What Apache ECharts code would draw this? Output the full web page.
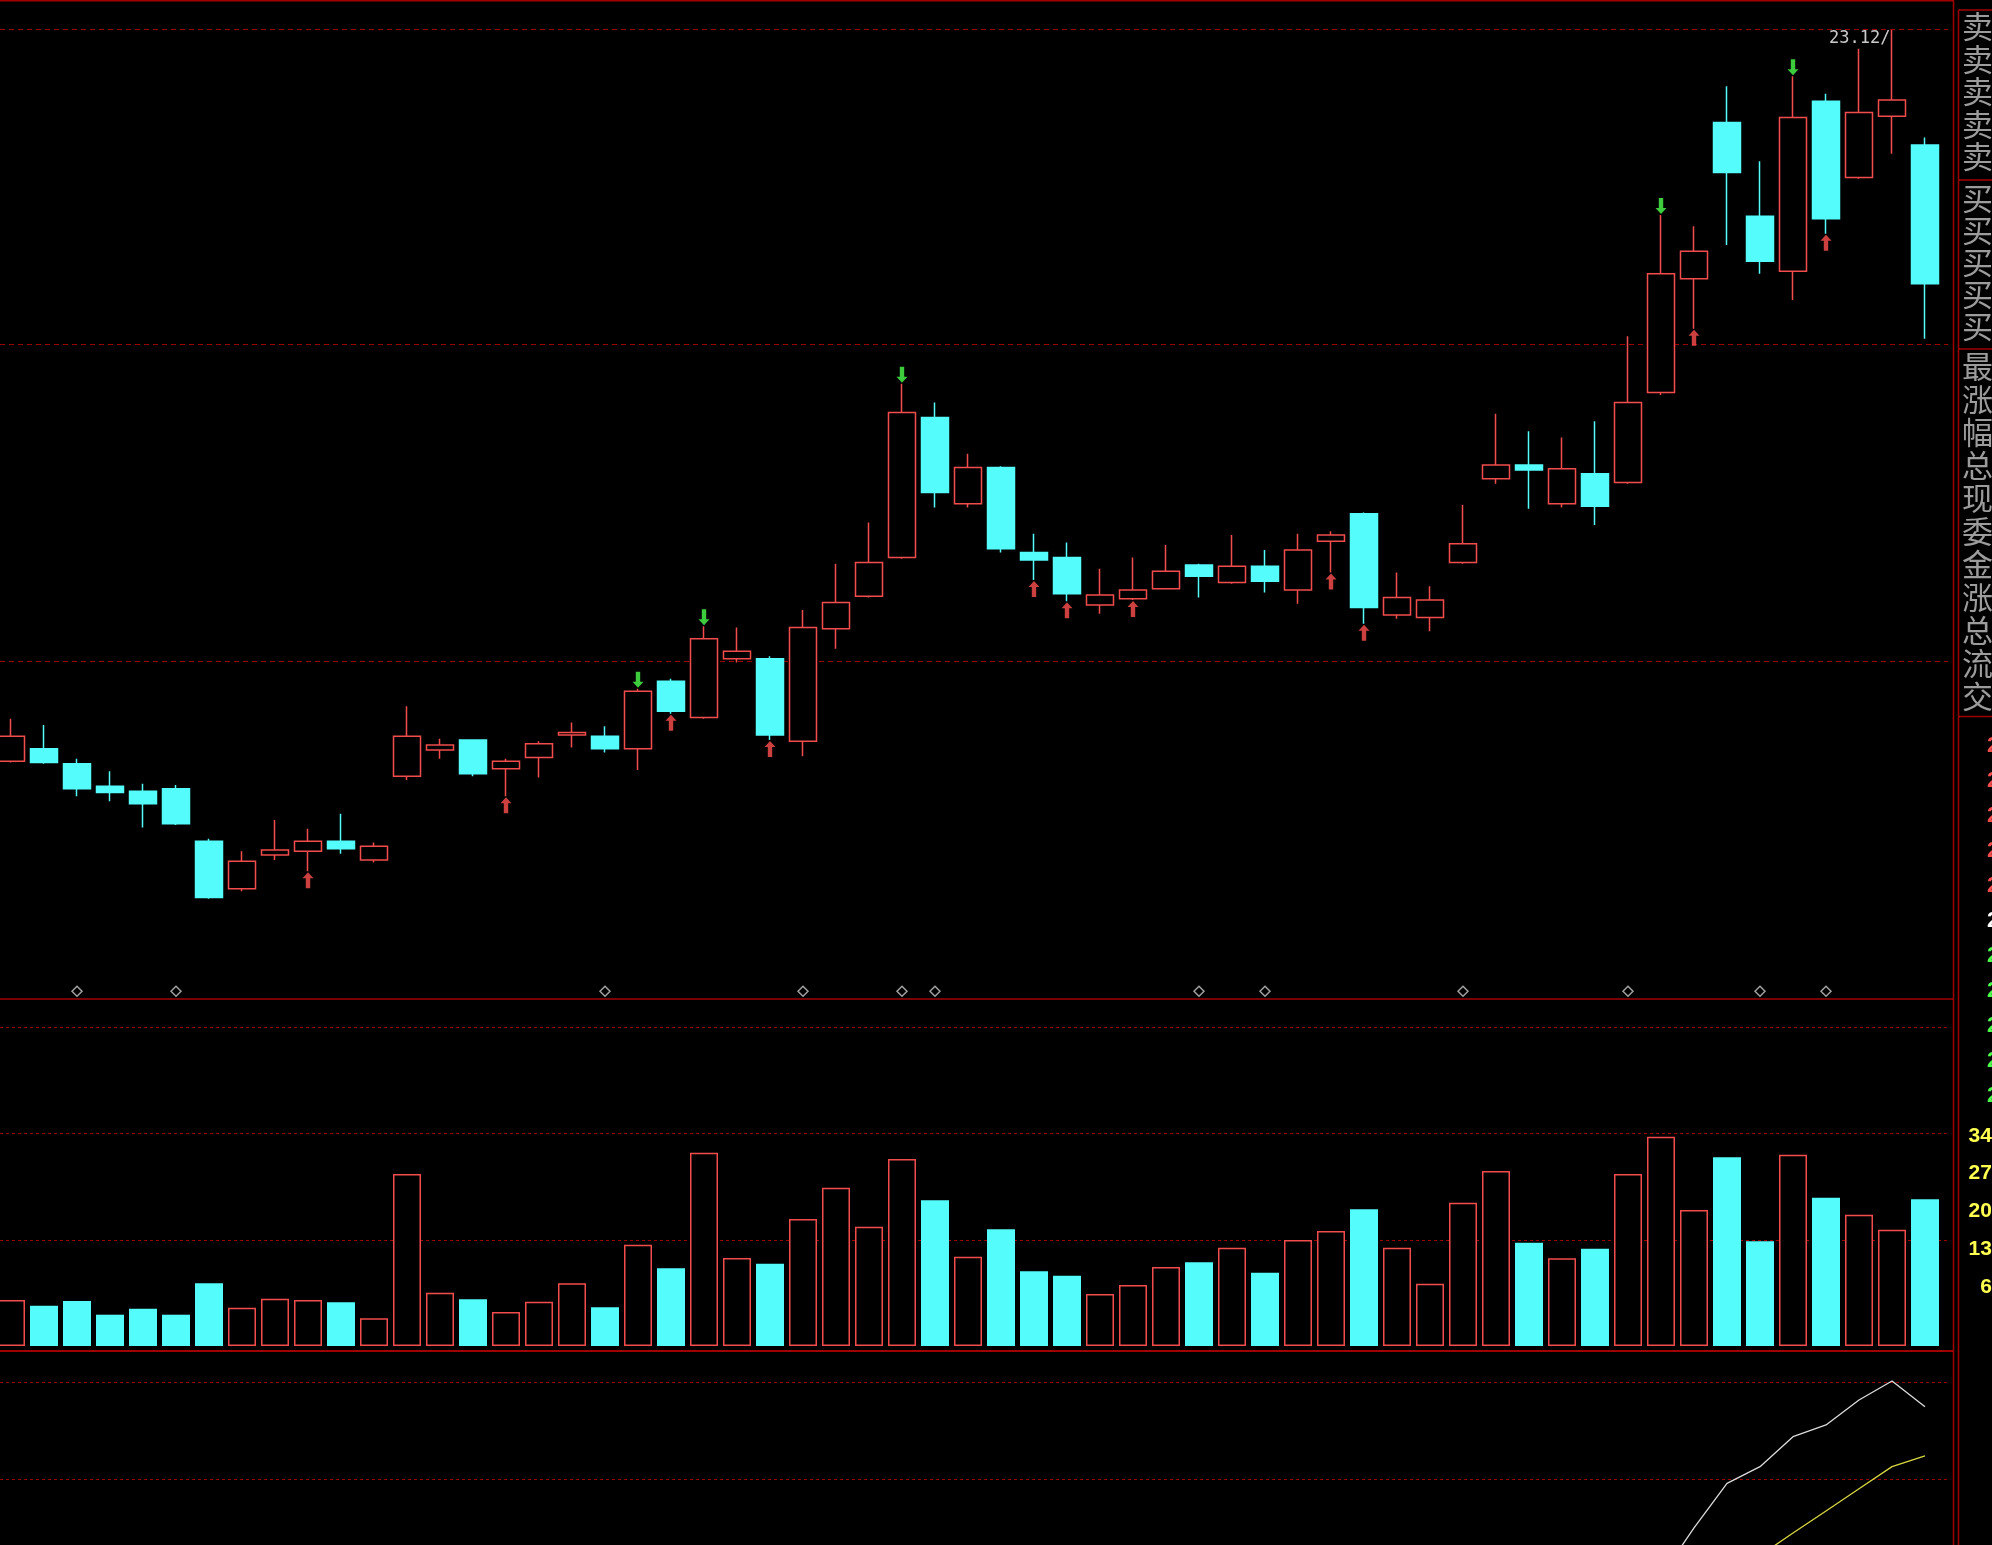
<!DOCTYPE html>
<html><head><meta charset="utf-8">
<script src="https://cdn.jsdelivr.net/npm/echarts@6/dist/echarts.min.js"></script>
<style>html,body{margin:0;padding:0;background:#000;overflow:hidden}#c{width:1992px;height:1545px}</style>
</head><body><div id="c"></div>
<script>
// ---------- data ----------
const categories = Array.from({length: 59}, (_, i) => 'D' + (i + 1));
const openP  = [17.27,17.37,17.25,17.07,17.03,17.05,16.63,16.25,16.52,16.55,
                16.63,16.48,17.15,17.36,17.44,17.21,17.30,17.48,17.47,17.37,
                17.91,17.62,18.09,18.09,17.43,18.33,18.59,18.90,20.02,19.33,
                19.62,18.94,18.90,18.52,18.57,18.65,18.84,18.70,18.83,18.64,
                19.03,19.25,18.44,18.42,18.86,19.53,19.64,19.33,19.57,19.50,
                20.22,21.13,22.38,21.63,21.19,22.55,21.94,22.43,22.20];
const closeP = [17.47,17.26,17.05,17.02,16.93,16.77,16.18,16.47,16.56,16.63,
                16.57,16.59,17.47,17.40,17.17,17.27,17.41,17.50,17.37,17.83,
                17.67,18.25,18.15,17.48,18.34,18.54,18.86,20.06,19.42,19.62,
                18.97,18.88,18.61,18.60,18.64,18.79,18.75,18.83,18.71,18.96,
                19.08,18.50,18.58,18.56,19.01,19.64,19.60,19.61,19.31,20.14,
                21.17,21.35,21.98,21.27,22.42,21.61,22.46,22.56,21.09];
const highP  = [17.61,17.56,17.29,17.19,17.09,17.08,16.65,16.55,16.80,16.73,
                16.85,16.62,17.71,17.45,17.44,17.29,17.43,17.58,17.55,17.85,
                17.93,18.35,18.34,18.11,18.48,18.85,19.18,20.29,20.14,19.73,
                19.63,19.09,19.02,18.81,18.90,19.00,18.85,19.08,18.96,19.09,
                19.11,19.26,18.78,18.67,19.32,20.05,19.91,19.86,19.99,20.67,
                21.64,21.55,22.67,22.07,22.75,22.61,22.97,23.12,22.26];
const lowP   = [17.26,17.25,16.99,16.95,16.74,16.76,16.17,16.23,16.48,16.39,
                16.53,16.46,17.12,17.29,17.15,16.99,17.14,17.38,17.34,17.20,
                17.65,17.61,18.06,17.44,17.31,18.17,18.58,18.89,19.30,19.30,
                18.94,18.72,18.55,18.45,18.56,18.65,18.58,18.69,18.62,18.53,
                18.78,18.37,18.41,18.31,18.85,19.49,19.29,19.30,19.16,19.49,
                20.20,20.73,21.40,21.17,20.96,21.49,21.93,22.13,20.65];
const volume = [21630,18950,21160,14720,17540,14720,29480,18010,22240,21630,
                20550,13020,80870,25060,21960,15990,20830,29480,18200,47630,
                36530,90890,41380,38700,59720,74430,56100,87930,68510,41990,
                54870,35120,33060,24450,28680,37150,39360,46220,34470,49840,
                54070,64280,46220,29290,67380,82290,48570,41240,45750,80870,
                98420,63950,88730,49230,89950,69730,61740,54690,68980];
// indicator lines (only the visible tail; earlier points are not shown)
const indWhiteStart = 50;
const indWhite  = [-40, -10.2, 17.3, 27.6, 46.1, 53.3, 68.7, 80.4, 64.6];
const indYellowStart = 53;
const indYellow = [-27.2, -13.3, 0.3, 14.0, 27.6, 34.2];
// signal markers (category indices)
const buySignals  = [9, 15, 20, 23, 31, 32, 34, 40, 41, 51, 55];
const sellSignals = [19, 21, 27, 50, 54];
const diamondMarks = [2, 5, 18, 24, 27, 28, 36, 38, 44, 49, 53, 55];
const diamondLevel = 15.43;
// reference levels
const priceLevels = [23.13, 20.61, 18.07];
const volumeLevels = [50000, 100000, 150000];
const indicatorLevels = [20, 80];
// right side info column
const sideGroups = [
  {chars: '卖卖卖卖卖', y0: 11, step: 32.5},
  {chars: '买买买买买', y0: 183, step: 32},
  {chars: '最涨幅总现委金涨总流交', y0: 351, step: 33}
];
const ladderRed = ['21.14', '21.13', '21.12', '21.11', '21.10'];
const ladderWhite = ['21.09'];
const ladderGreen = ['21.08', '21.07', '21.06', '21.05', '21.04'];
const yellowLabels = ['34500', '27600', '20700', '13800', '6900'];

// ---------- styles ----------
const RED = '#f24c4c', CYAN = '#54fcfc', GREEN = '#4cff4c', BORDER = '#a00000', DASH = '#9a0000';

const kData = openP.map((o, i) => [o, closeP[i], lowP[i], highP[i]]);
const volData = volume.map((v, i) => {
  const up = closeP[i] > openP[i];
  return {value: v, itemStyle: up ? {color: '#000', borderColor: RED, borderWidth: 1.5}
                                  : {color: CYAN, borderColor: CYAN, borderWidth: 0}};
});
const whiteData = categories.map((_, i) => i >= indWhiteStart ? indWhite[i - indWhiteStart] : null);
const yellowData = categories.map((_, i) => i >= indYellowStart ? indYellow[i - indYellowStart] : null);

const upArrow = 'path://M5.5,0 L11,6 L7.7,6 L7.7,16 L3.3,16 L3.3,6 L0,6 Z';
const downArrow = 'path://M3.3,0 L7.7,0 L7.7,10 L11,10 L5.5,16 L0,10 L3.3,10 Z';
const diamond = 'path://M5,0 L10,5 L5,10 L0,5 Z';

// ---------- decorations ----------
const g = [];
function hl(x1, x2, y, w) { g.push({type: 'line', silent: true, z: 100, shape: {x1, y1: y, x2, y2: y}, style: {stroke: BORDER, lineWidth: w}}); }
function vl(x, y1, y2, w) { g.push({type: 'line', silent: true, z: 100, shape: {x1: x, y1, x2: x, y2}, style: {stroke: BORDER, lineWidth: w}}); }
hl(0, 1954, 0.75, 1.5);
hl(0, 1954, 999, 1.5);
hl(0, 1954, 1351, 2);
vl(1953.5, 0, 1545, 1.5);
vl(1958.5, 10, 1545, 1.5);
[10, 180, 349, 716.5].forEach(y => hl(1958.5, 1992, y, 1.5));
sideGroups.forEach(gr => {
  Array.from(gr.chars).forEach((ch, k) => {
    g.push({type: 'text', silent: true, z: 100, x: 1962, y: gr.y0 + k * gr.step,
      style: {text: ch, fill: '#9c9c9c', font: '31px "Noto Sans CJK SC"', verticalAlign: 'top', align: 'left'}});
  });
});
const ladder = [].concat(ladderRed.map(t => [t, RED]), ladderWhite.map(t => [t, '#ffffff']), ladderGreen.map(t => [t, GREEN]));
ladder.forEach((p, k) => {
  g.push({type: 'text', silent: true, z: 100, x: 1987, y: 746 + k * 35,
    style: {text: p[0], fill: p[1], font: 'bold 22px "Liberation Sans"', verticalAlign: 'middle', align: 'left'}});
});
yellowLabels.forEach((t, k) => {
  g.push({type: 'text', silent: true, z: 100, x: 2027, y: 1136 + k * 37.7,
    style: {text: t, fill: '#ffff50', font: 'bold 21px "Liberation Sans"', verticalAlign: 'middle', align: 'right'}});
});

// ---------- chart ----------
const chart = echarts.init(document.getElementById('c'), null, {renderer: 'canvas'});
const gridBase = {left: -5.5, width: 1947, containLabel: false, outerBoundsMode: 'none'};
const xAx = idx => ({type: 'category', gridIndex: idx, data: categories, show: false, boundaryGap: true});
const option = {
  backgroundColor: '#000',
  animation: false,
  grid: [
    Object.assign({top: 2, height: 997}, gridBase),
    Object.assign({top: 1000, height: 346}, gridBase),
    Object.assign({top: 1352, height: 193}, gridBase)
  ],
  xAxis: [xAx(0), xAx(1), xAx(2)],
  yAxis: [
    {type: 'value', gridIndex: 0, min: 15.368, max: 23.344, show: false, splitLine: {show: false}},
    {type: 'value', gridIndex: 1, min: 0, max: 162700, show: false, splitLine: {show: false}},
    {type: 'value', gridIndex: 2, min: -20.7, max: 98.3, show: false, splitLine: {show: false}}
  ],
  graphic: g,
  series: [
    {
      type: 'candlestick', xAxisIndex: 0, yAxisIndex: 0, data: kData, barWidth: 28, z: 3,
      itemStyle: {color: '#000', color0: CYAN, borderColor: RED, borderColor0: CYAN, borderWidth: 1.5},
      markPoint: {
        z: 10, symbol: 'circle', symbolSize: 1, itemStyle: {color: 'rgba(0,0,0,0)'},
        label: {show: true, position: 'left', distance: 1, offset: [0, 9], color: '#cacaca',
                fontFamily: 'DejaVu Sans Mono', fontSize: 17,
                formatter: p => Number(p.value).toFixed(2) + '/'},
        data: [{type: 'max', valueDim: 'highest'}]
      }
    },
    {type: 'scatter', xAxisIndex: 0, yAxisIndex: 0, z: 4, symbol: upArrow, symbolSize: [11, 16], symbolOffset: [0, 9],
     itemStyle: {color: '#ff5050'}, data: buySignals.map(i => [i, lowP[i]])},
    {type: 'scatter', xAxisIndex: 0, yAxisIndex: 0, z: 4, symbol: downArrow, symbolSize: [11, 16], symbolOffset: [0, -9],
     itemStyle: {color: GREEN}, data: sellSignals.map(i => [i, highP[i]])},
    {type: 'scatter', xAxisIndex: 0, yAxisIndex: 0, z: 4, symbol: diamond, symbolSize: 10,
     itemStyle: {color: 'rgba(0,0,0,0)', borderColor: '#c8c8c8', borderWidth: 1.5},
     data: diamondMarks.map(i => [i, diamondLevel])},
    {type: 'bar', xAxisIndex: 1, yAxisIndex: 1, barWidth: 28, z: 3, data: volData},
    {type: 'line', xAxisIndex: 2, yAxisIndex: 2, z: 3, data: whiteData, showSymbol: false, connectNulls: false,
     lineStyle: {color: '#dcdcdc', width: 1.3}},
    {type: 'line', xAxisIndex: 2, yAxisIndex: 2, z: 3, data: yellowData, showSymbol: false, connectNulls: false,
     lineStyle: {color: '#d8d840', width: 1.3}}
  ]
};
chart.setOption(option);

// dashed reference lines, positioned through each panel's y scale, drawn under the marks
function levelLines(levels, axisIndex, dash) {
  return levels.map(v => {
    const y = Math.round(chart.convertToPixel({yAxisIndex: axisIndex}, v)) + 0.5;
    return {type: 'line', silent: true, z: 0, zlevel: 0, shape: {x1: 0, y1: y, x2: 1948, y2: y},
            style: {stroke: DASH, lineWidth: 1, lineDash: dash}};
  });
}
const dashed = [].concat(levelLines(priceLevels, 0, [5, 4]), levelLines(volumeLevels, 1, [3, 3]), levelLines(indicatorLevels, 2, [3, 3]));
option.graphic = g.concat(dashed);
chart.setOption({graphic: option.graphic});
</script>
</body></html>
